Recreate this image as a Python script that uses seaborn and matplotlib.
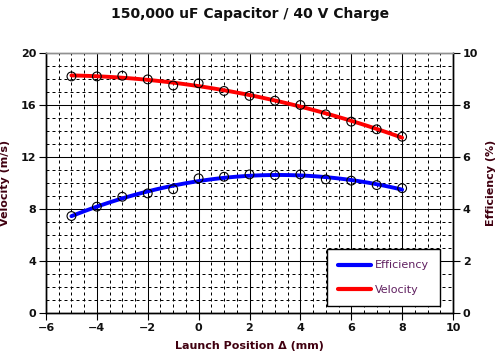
import matplotlib
matplotlib.use("Agg")
import matplotlib.pyplot as plt
from matplotlib.ticker import MultipleLocator
from matplotlib.lines import Line2D
import seaborn as sns
import pandas as pd

# ---- data ----
positions = [-5, -4, -3, -2, -1, 0, 1, 2, 3, 4, 5, 6, 7, 8]
velocity = [18.2, 18.2, 18.25, 17.97, 17.5, 17.67, 17.08, 16.7, 16.33, 16.0, 15.28, 14.72, 14.13, 13.56]
efficiency = [3.73, 4.09, 4.47, 4.6, 4.76, 5.18, 5.24, 5.33, 5.3, 5.33, 5.14, 5.09, 4.92, 4.8]
x_ticks = [-6, -4, -2, 0, 2, 4, 6, 8, 10]
vel_ticks = [0, 4, 8, 12, 16, 20]
eff_ticks = [0, 2, 4, 6, 8, 10]
title = "150,000 uF Capacitor / 40 V Charge"

df = pd.DataFrame({"pos": positions, "vel": velocity, "eff": efficiency})

sns.set_style("white")
plt.rcParams["font.family"] = ["DejaVu Sans"]

fig = plt.figure(figsize=(5.01, 3.57), dpi=100)
ax = fig.add_axes([46/501, 44/357, 407/501, 260/357])
ax2 = ax.twinx()

label_color = "#400010"

ax.set_xlim(-6, 10)
ax.set_ylim(0, 20)
ax2.set_ylim(0, 10)
ax.xaxis.set_major_locator(MultipleLocator(2))
ax.xaxis.set_minor_locator(MultipleLocator(0.5))
ax.yaxis.set_major_locator(MultipleLocator(4))
ax.yaxis.set_minor_locator(MultipleLocator(1))
ax2.yaxis.set_major_locator(MultipleLocator(2))
ax.grid(which="major", color="black", lw=0.75, ls="-")
ax.grid(which="minor", color="black", lw=0.72, ls=(0, (3, 3)))
ax.set_axisbelow(True)
ax.tick_params(which="minor", length=0)
ax.tick_params(which="major", direction="out", length=5, width=0.8, color="black",
               labelsize=8, bottom=True, left=True, pad=2, labelcolor="#101010")
ax2.tick_params(which="major", direction="out", length=5, width=0.8, color="black",
                labelsize=8, right=True, pad=2, labelcolor="#101010")

for a in (ax, ax2):
    for s in a.spines.values():
        s.set_color("black")
        s.set_linewidth(1)
    a.spines["top"].set_color("#909090")

# velocity
sns.regplot(data=df, x="pos", y="vel", order=2, ci=None, scatter=False, ax=ax,
            line_kws=dict(color="#ff0000", lw=2.8, zorder=3))
sns.scatterplot(data=df, x="pos", y="vel", ax=ax, s=40, marker="o",
                facecolor="none", edgecolor="black", linewidth=0.8, zorder=4)
# efficiency
sns.regplot(data=df, x="pos", y="eff", order=2, ci=None, scatter=False, ax=ax2,
            line_kws=dict(color="#0000ff", lw=2.8, zorder=3))
sns.scatterplot(data=df, x="pos", y="eff", ax=ax2, s=40, marker="o",
                facecolor="none", edgecolor="black", linewidth=0.8, zorder=4)

ax.set_xlim(-6, 10)
ax.set_ylim(0, 20)
ax2.set_ylim(0, 10)
ax.set_xticks(x_ticks)
ax.set_yticks(vel_ticks)
ax2.set_yticks(eff_ticks)
for a in (ax, ax2):
    for lbl in a.get_xticklabels() + a.get_yticklabels():
        lbl.set_fontweight("bold")

ax.set_xlabel("Launch Position \u0394 (mm)", fontsize=8, fontweight="bold", color=label_color, labelpad=6)
ax.set_ylabel("Velocity (m/s)", fontsize=8, fontweight="bold", color=label_color, labelpad=8)
ax2.set_ylabel("Efficiency (%)", fontsize=8, fontweight="bold", color=label_color, labelpad=6)
fig.suptitle(title, fontsize=10, fontweight="bold", color="#101010", y=0.98)

handles = [Line2D([], [], color="#0000ff", lw=3), Line2D([], [], color="#ff0000", lw=3)]
leg = ax2.legend(handles, ["Efficiency", "Velocity"], loc="lower right",
                 bbox_to_anchor=(0.968, 0.027), fontsize=8, frameon=True, fancybox=False,
                 edgecolor="black", framealpha=1, handlelength=3.0, borderpad=1.0,
                 labelspacing=1.3, handletextpad=0.3, borderaxespad=0)
leg.get_frame().set_linewidth(1)
for t in leg.get_texts():
    t.set_color("#602060")

fig.savefig("out.png", dpi=100)
